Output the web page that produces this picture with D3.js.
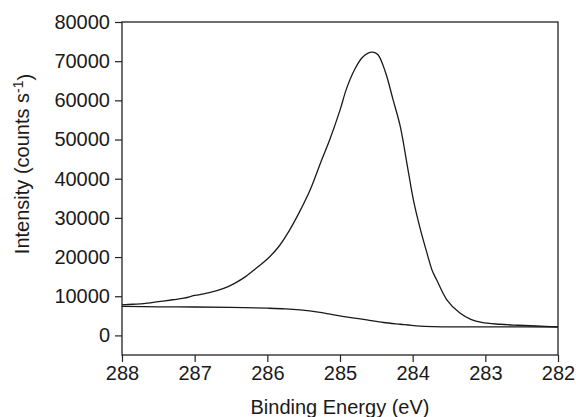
<!DOCTYPE html>
<html>
<head>
<meta charset="utf-8">
<script src="https://cdn.jsdelivr.net/npm/d3@7"></script>
<style>
    body { margin: 0; background: #ffffff; }
    svg text { font-family: "Liberation Sans", Arial, sans-serif; fill: #1a1a1a; }
</style>
</head>
<body>
<div id="chart"></div>
<script>
// C 1s spectrum (binding energy in eV, intensity in counts/s)
var spectrumEnergy = [288.00, 287.85, 287.70, 287.50, 287.30, 287.15, 287.00, 286.80, 286.60, 286.45,
    286.30, 286.15, 286.00, 285.85, 285.70, 285.55, 285.41, 285.25, 285.14, 285.00,
    284.91, 284.80, 284.70, 284.62, 284.55, 284.48, 284.38, 284.27, 284.17, 284.08,
    283.99, 283.90, 283.80, 283.73, 283.67, 283.53, 283.35, 283.20, 283.05, 282.80,
    282.55, 282.30, 282.00];
var spectrumCounts = [7800, 7950, 8100, 8600, 9100, 9500, 10200, 10900, 12000, 13300,
    15000, 17200, 19500, 22500, 26700, 31800, 37200, 44900, 50000, 57500,
    63000, 67800, 70800, 72000, 72300, 71700, 67500, 60200, 53300, 44000,
    34600, 27500, 20800, 16500, 14200, 9100, 5700, 4100, 3300, 2850,
    2600, 2400, 2200];

// background line under the peak
var backgroundEnergy = [288.00, 287.50, 287.00, 286.50, 286.00, 285.75, 285.55, 285.30, 285.10, 284.85,
    284.63, 284.40, 284.17, 283.95, 283.72, 283.30, 282.80, 282.00];
var backgroundCounts = [7400, 7300, 7250, 7150, 6950, 6780, 6500, 5950, 5300, 4550,
    3950, 3300, 2850, 2450, 2250, 2200, 2200, 2150];

var xTickValues = [288, 287, 286, 285, 284, 283, 282];
var yTickValues = [0, 10000, 20000, 30000, 40000, 50000, 60000, 70000, 80000];

var width = 576, height = 417;
var margins = { top: 22, right: 18, bottom: 62, left: 122 };
var plotW = width - margins.left - margins.right;
var plotH = height - margins.top - margins.bottom;

var svg = d3.select('#chart').append('svg')
    .attr('width', width)
    .attr('height', height);

var xScale = d3.scaleLinear().domain([288, 282]).range([0, plotW]);
var yScale = d3.scaleLinear().domain([-5000, 80000]).range([plotH, 0]);

var plot = svg.append('g')
    .attr('transform', 'translate(' + margins.left + ',' + margins.top + ')');

// axes
var xAxis = d3.axisBottom(xScale).tickValues(xTickValues).tickSize(7).tickPadding(4)
    .tickFormat(d3.format('d'));
var yAxis = d3.axisLeft(yScale).tickValues(yTickValues).tickSize(7).tickPadding(5)
    .tickFormat(d3.format('d'));

var gx = plot.append('g')
    .attr('class', 'xAxis')
    .attr('transform', 'translate(0,' + plotH + ')')
    .call(xAxis);
var gy = plot.append('g')
    .attr('class', 'yAxis')
    .call(yAxis);

[gx, gy].forEach(function (g) {
    g.select('.domain').remove();
    g.selectAll('line').attr('stroke', '#222').attr('stroke-width', 1.2);
    g.selectAll('text').style('font-size', '20px').attr('fill', '#1a1a1a');
});

// frame
plot.append('rect')
    .attr('x', 0)
    .attr('y', 0)
    .attr('width', plotW)
    .attr('height', plotH)
    .attr('fill', 'none')
    .attr('stroke', '#222')
    .attr('stroke-width', 1.3);

var line = d3.line()
    .x(function (d) { return xScale(d[0]); })
    .y(function (d) { return yScale(d[1]); })
    .curve(d3.curveCatmullRom);

plot.append('path')
    .datum(backgroundEnergy.map(function (e, i) { return [e, backgroundCounts[i]]; }))
    .attr('d', line)
    .attr('fill', 'none')
    .attr('stroke', '#1a1a1a')
    .attr('stroke-width', 1.3);

plot.append('path')
    .datum(spectrumEnergy.map(function (e, i) { return [e, spectrumCounts[i]]; }))
    .attr('d', line)
    .attr('fill', 'none')
    .attr('stroke', '#1a1a1a')
    .attr('stroke-width', 1.3);

// axis titles
svg.append('text')
    .attr('x', margins.left + plotW / 2)
    .attr('y', 414)
    .attr('text-anchor', 'middle')
    .style('font-size', '20px')
    .text('Binding Energy (eV)');

var yTitle = svg.append('text')
    .attr('transform', 'translate(29,164) rotate(-90)')
    .attr('text-anchor', 'middle')
    .style('font-size', '20px');
yTitle.append('tspan').text('Intensity (counts s');
yTitle.append('tspan').attr('dy', '-0.45em').style('font-size', '14px').text('-1');
yTitle.append('tspan').attr('dy', '0.45em').text(')');
</script>
</body>
</html>
